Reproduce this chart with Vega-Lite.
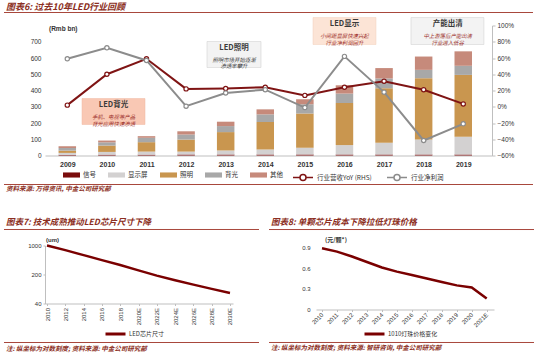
{
  "$schema": "https://vega.github.io/schema/vega-lite/v6.json",
  "bounds": "flush",
  "spacing": 90,
  "padding": {"left": 3, "top": 2.5, "right": 0, "bottom": 0},
  "autosize": {"type": "pad"},
  "background": "white",
  "resolve": {"scale": {"stroke": "independent", "fill": "independent"}, "legend": {"stroke": "independent", "fill": "independent"}},
  "config": {
    "view": {"stroke": null},
    "font": "Noto Sans CJK SC",
    "axis": {"labelFont": "Liberation Sans", "labelColor": "#333333", "domainColor": "#bfbfbf", "tickColor": "#bfbfbf", "grid": false, "labelOverlap": false, "labelFlush": false},
    "legend": {"labelFont": "Noto Sans CJK SC", "labelColor": "#333333", "labelFontSize": 6.5}
  },
  "datasets": {
    "bars": [
      {"year": 2009, "seg": "信号", "v": 4}, {"year": 2009, "seg": "显示屏", "v": 12}, {"year": 2009, "seg": "照明", "v": 14}, {"year": 2009, "seg": "背光", "v": 16}, {"year": 2009, "seg": "其他", "v": 11},
      {"year": 2010, "seg": "信号", "v": 5}, {"year": 2010, "seg": "显示屏", "v": 17}, {"year": 2010, "seg": "照明", "v": 39}, {"year": 2010, "seg": "背光", "v": 20}, {"year": 2010, "seg": "其他", "v": 11},
      {"year": 2011, "seg": "信号", "v": 5}, {"year": 2011, "seg": "显示屏", "v": 19}, {"year": 2011, "seg": "照明", "v": 58}, {"year": 2011, "seg": "背光", "v": 27}, {"year": 2011, "seg": "其他", "v": 10},
      {"year": 2012, "seg": "信号", "v": 6}, {"year": 2012, "seg": "显示屏", "v": 18}, {"year": 2012, "seg": "照明", "v": 74}, {"year": 2012, "seg": "背光", "v": 31}, {"year": 2012, "seg": "其他", "v": 20},
      {"year": 2013, "seg": "信号", "v": 6}, {"year": 2013, "seg": "显示屏", "v": 25}, {"year": 2013, "seg": "照明", "v": 113}, {"year": 2013, "seg": "背光", "v": 37}, {"year": 2013, "seg": "其他", "v": 27},
      {"year": 2014, "seg": "信号", "v": 6}, {"year": 2014, "seg": "显示屏", "v": 31}, {"year": 2014, "seg": "照明", "v": 169}, {"year": 2014, "seg": "背光", "v": 47}, {"year": 2014, "seg": "其他", "v": 31},
      {"year": 2015, "seg": "信号", "v": 6}, {"year": 2015, "seg": "显示屏", "v": 41}, {"year": 2015, "seg": "照明", "v": 212}, {"year": 2015, "seg": "背光", "v": 56}, {"year": 2015, "seg": "其他", "v": 31},
      {"year": 2016, "seg": "信号", "v": 6}, {"year": 2016, "seg": "显示屏", "v": 58}, {"year": 2016, "seg": "照明", "v": 259}, {"year": 2016, "seg": "背光", "v": 58}, {"year": 2016, "seg": "其他", "v": 51},
      {"year": 2017, "seg": "信号", "v": 6}, {"year": 2017, "seg": "显示屏", "v": 72}, {"year": 2017, "seg": "照明", "v": 336}, {"year": 2017, "seg": "背光", "v": 60}, {"year": 2017, "seg": "其他", "v": 64},
      {"year": 2018, "seg": "信号", "v": 6}, {"year": 2018, "seg": "显示屏", "v": 93}, {"year": 2018, "seg": "照明", "v": 377}, {"year": 2018, "seg": "背光", "v": 51}, {"year": 2018, "seg": "其他", "v": 82},
      {"year": 2019, "seg": "信号", "v": 6}, {"year": 2019, "seg": "显示屏", "v": 109}, {"year": 2019, "seg": "照明", "v": 381}, {"year": 2019, "seg": "背光", "v": 56}, {"year": 2019, "seg": "其他", "v": 89}
    ],
    "lines": [
      {"year": 2009, "s": "行业营收YoY (RHS)", "pct": 0.02}, {"year": 2010, "s": "行业营收YoY (RHS)", "pct": 0.40}, {"year": 2011, "s": "行业营收YoY (RHS)", "pct": 0.59}, {"year": 2012, "s": "行业营收YoY (RHS)", "pct": 0.22}, {"year": 2013, "s": "行业营收YoY (RHS)", "pct": 0.225}, {"year": 2014, "s": "行业营收YoY (RHS)", "pct": 0.24}, {"year": 2015, "s": "行业营收YoY (RHS)", "pct": 0.14}, {"year": 2016, "s": "行业营收YoY (RHS)", "pct": 0.24}, {"year": 2017, "s": "行业营收YoY (RHS)", "pct": 0.315}, {"year": 2018, "s": "行业营收YoY (RHS)", "pct": 0.21}, {"year": 2019, "s": "行业营收YoY (RHS)", "pct": 0.035},
      {"year": 2009, "s": "行业净利润", "pct": 0.59}, {"year": 2010, "s": "行业净利润", "pct": 0.725}, {"year": 2011, "s": "行业净利润", "pct": 0.57}, {"year": 2012, "s": "行业净利润", "pct": 0.007}, {"year": 2013, "s": "行业净利润", "pct": 0.17}, {"year": 2014, "s": "行业净利润", "pct": 0.21}, {"year": 2015, "s": "行业净利润", "pct": -0.01}, {"year": 2016, "s": "行业净利润", "pct": 0.62}, {"year": 2017, "s": "行业净利润", "pct": 0.18}, {"year": 2018, "s": "行业净利润", "pct": -0.415}, {"year": 2019, "s": "行业净利润", "pct": -0.21}
    ],
    "chip": [
      {"year": 2010, "s": "LED芯片尺寸", "um": 1000}, {"year": 2012, "s": "LED芯片尺寸", "um": 773}, {"year": 2014, "s": "LED芯片尺寸", "um": 586}, {"year": 2016, "s": "LED芯片尺寸", "um": 445}, {"year": 2018, "s": "LED芯片尺寸", "um": 338}, {"year": 2020, "s": "LED芯片尺寸", "um": 252}, {"year": 2022, "s": "LED芯片尺寸", "um": 188}, {"year": 2024, "s": "LED芯片尺寸", "um": 145}, {"year": 2026, "s": "LED芯片尺寸", "um": 114}, {"year": 2028, "s": "LED芯片尺寸", "um": 90}, {"year": 2030, "s": "LED芯片尺寸", "um": 72}
    ],
    "price": [
      {"year": 2010, "s": "1010灯珠价格变化", "p": 0.89}, {"year": 2011, "s": "1010灯珠价格变化", "p": 0.84}, {"year": 2012, "s": "1010灯珠价格变化", "p": 0.77}, {"year": 2013, "s": "1010灯珠价格变化", "p": 0.69}, {"year": 2014, "s": "1010灯珠价格变化", "p": 0.61}, {"year": 2015, "s": "1010灯珠价格变化", "p": 0.55}, {"year": 2016, "s": "1010灯珠价格变化", "p": 0.50}, {"year": 2017, "s": "1010灯珠价格变化", "p": 0.45}, {"year": 2018, "s": "1010灯珠价格变化", "p": 0.40}, {"year": 2019, "s": "1010灯珠价格变化", "p": 0.35}, {"year": 2020, "s": "1010灯珠价格变化", "p": 0.32}, {"year": 2021, "s": "1010灯珠价格变化", "p": 0.16}
    ],
    "one": [{}]
  },
  "vconcat": [
    {
      "width": 447,
      "height": 130,
      "resolve": {"scale": {"x": "independent", "y": "independent"}},
      "layer": [
        {
          "resolve": {"scale": {"y": "independent"}},
          "layer": [
            {
              "data": {"name": "bars"},
              "transform": [{"window": [{"op": "row_number", "as": "rn"}], "groupby": ["year"]}],
              "mark": {"type": "bar", "size": 17.5},
              "encoding": {
                "x": {"field": "year", "type": "quantitative", "scale": {"domain": [2008.563, 2019.6], "nice": false, "zero": false},
                  "axis": {"values": [2009, 2010, 2011, 2012, 2013, 2014, 2015, 2016, 2017, 2018, 2019], "format": "d", "title": null, "ticks": false, "labelFontSize": 7, "labelFontWeight": "bold", "labelPadding": 5}},
                "y": {"field": "v", "type": "quantitative", "stack": "zero", "scale": {"domain": [0, 800], "nice": false, "zero": false},
                  "axis": {"values": [0, 100, 200, 300, 400, 500, 600, 700], "title": null, "domain": false, "ticks": false, "tickSize": 0, "labelFontSize": 6.5, "labelPadding": 4}},
                "order": {"field": "rn", "type": "quantitative", "sort": "ascending"},
                "fill": {"field": "seg", "type": "nominal", "sort": ["信号", "显示屏", "照明", "背光", "其他"],
                  "scale": {"domain": ["信号", "显示屏", "照明", "背光", "其他"], "range": ["#7a0c0c", "#d3d1d1", "#c9964f", "#a8a8a8", "#c68a7b"]},
                  "legend": {"title": null, "orient": "none", "legendX": 18, "legendY": 141, "direction": "horizontal", "symbolType": "M-1,-0.3H1V0.3H-1Z", "symbolSize": 289, "symbolStrokeWidth": 0, "labelOffset": 3, "columnPadding": 12}}
              }
            },
            {
              "data": {"name": "lines"},
              "mark": {"type": "line", "strokeWidth": 2, "point": {"filled": false, "fill": "white", "size": 18, "strokeWidth": 1.2}},
              "encoding": {
                "x": {"field": "year", "type": "quantitative"},
                "y": {"field": "pct", "type": "quantitative", "scale": {"domain": [-0.6, 1.0], "nice": false, "zero": false},
                  "axis": {"orient": "right", "values": [-0.6, -0.4, -0.2, 0, 0.2, 0.4, 0.6, 0.8, 1.0], "format": ".0%", "title": null, "tickSize": 3, "labelPadding": 2, "labelFontSize": 6.5}},
                "stroke": {"field": "s", "type": "nominal", "sort": ["行业营收YoY (RHS)", "行业净利润"],
                  "scale": {"domain": ["行业营收YoY (RHS)", "行业净利润"], "range": ["#7f1414", "#8c8c8c"]},
                  "legend": {"title": null, "orient": "none", "legendX": 247, "legendY": 141, "direction": "horizontal", "symbolType": "M-1,0H-0.3M0.3,0H1M-0.3,0A0.3,0.3,0,1,1,0.3,0A0.3,0.3,0,1,1,-0.3,0", "symbolSize": 400, "symbolStrokeWidth": 1.5, "symbolFillColor": "white", "labelOffset": 3, "columnPadding": 12}}
              }
            }
          ]
        },
        {
          "data": {"name": "one"},
          "layer": [
            {"mark": {"type": "rect", "fill": "#f9c8b4", "stroke": "#f0b8a0", "strokeWidth": 0.5},
              "encoding": {"x": {"datum": 2009.477, "axis": null, "scale": {"domain": [2008.563, 2019.6], "nice": false, "zero": false}}, "x2": {"datum": 2011.032}, "y": {"datum": 350.8, "axis": null, "scale": {"domain": [0, 800], "nice": false, "zero": false}}, "y2": {"datum": 190.8}}},
            {"mark": {"type": "text", "text": "LED背光", "fontSize": 7.5, "fontWeight": "bold", "fill": "#3a3a3a", "align": "center", "baseline": "middle"},
              "encoding": {"x": {"datum": 2010.254, "axis": null}, "y": {"datum": 309, "axis": null}}},
            {"mark": {"type": "text", "text": ["手机、电视等产品", "背光应用快速渗透"], "lineHeight": 6.6, "fontSize": 5.4, "fontStyle": "italic", "fill": "#9c2f2a", "align": "center", "baseline": "middle"},
              "encoding": {"x": {"datum": 2010.254, "axis": null}, "y": {"datum": 236, "axis": null}}},
            {"mark": {"type": "rect", "fill": "#f3f3f3", "stroke": "#d4d4d4", "strokeWidth": 0.6},
              "encoding": {"x": {"datum": 2012.563, "axis": null}, "x2": {"datum": 2013.896}, "y": {"datum": 701.5, "axis": null}, "y2": {"datum": 541.5}}},
            {"mark": {"type": "text", "text": "LED照明", "fontSize": 7.5, "fontWeight": "bold", "fill": "#3a3a3a", "align": "center", "baseline": "middle"},
              "encoding": {"x": {"datum": 2013.23, "axis": null}, "y": {"datum": 664, "axis": null}}},
            {"mark": {"type": "text", "text": ["照明市场开始逐渐", "渗透率攀升"], "lineHeight": 6.6, "fontSize": 5.4, "fontStyle": "italic", "fill": "#3a3a3a", "align": "center", "baseline": "middle"},
              "encoding": {"x": {"datum": 2013.23, "axis": null}, "y": {"datum": 590, "axis": null}}},
            {"mark": {"type": "rect", "fill": "#fce4d6", "stroke": "#f2d0bd", "strokeWidth": 0.5},
              "encoding": {"x": {"datum": 2015.18, "axis": null}, "x2": {"datum": 2016.736}, "y": {"datum": 849, "axis": null}, "y2": {"datum": 683}}},
            {"mark": {"type": "text", "text": "LED显示", "fontSize": 7.5, "fontWeight": "bold", "fill": "#3a3a3a", "align": "center", "baseline": "middle"},
              "encoding": {"x": {"datum": 2015.958, "axis": null}, "y": {"datum": 808, "axis": null}}},
            {"mark": {"type": "text", "text": ["小间距显屏快速兴起", "行业净利润回升"], "lineHeight": 6.6, "fontSize": 5.4, "fontStyle": "italic", "fill": "#9c2f2a", "align": "center", "baseline": "middle"},
              "encoding": {"x": {"datum": 2015.958, "axis": null}, "y": {"datum": 733, "axis": null}}},
            {"mark": {"type": "rect", "fill": "#f3f3f3", "stroke": "#d4d4d4", "strokeWidth": 0.6},
              "encoding": {"x": {"datum": 2017.6, "axis": null}, "x2": {"datum": 2019.4}, "y": {"datum": 849, "axis": null}, "y2": {"datum": 683}}},
            {"mark": {"type": "text", "text": "产能出清", "fontSize": 7.5, "fontWeight": "bold", "fill": "#3a3a3a", "align": "center", "baseline": "middle"},
              "encoding": {"x": {"datum": 2018.506, "axis": null}, "y": {"datum": 808, "axis": null}}},
            {"mark": {"type": "text", "text": ["中上游落后产能出清", "行业进入低谷"], "lineHeight": 6.6, "fontSize": 5.4, "fontStyle": "italic", "fill": "#9c2f2a", "align": "center", "baseline": "middle"},
              "encoding": {"x": {"datum": 2018.506, "axis": null}, "y": {"datum": 733, "axis": null}}},
            {"mark": {"type": "text", "text": "(Rmb bn)", "font": "Liberation Sans", "fontSize": 6.5, "fontWeight": "bold", "fill": "#333333", "align": "left", "baseline": "middle"},
              "encoding": {"x": {"datum": 2008.662, "axis": null}, "y": {"datum": 781.5, "axis": null}}},
            {"mark": {"type": "text", "text": "图表6: 过去10年LED行业回顾", "fontSize": 9, "fontWeight": "bold", "fontStyle": "italic", "fill": "#8b2e22", "align": "left", "baseline": "middle"},
              "encoding": {"x": {"datum": 2007.60, "axis": null}, "y": {"datum": 916.9, "axis": null}}},
            {"mark": {"type": "rule", "stroke": "#a8473c", "strokeWidth": 1},
              "encoding": {"x": {"datum": 2007.551, "axis": null}, "x2": {"datum": 2020.612}, "y": {"datum": 880, "axis": null}}},
            {"mark": {"type": "rule", "stroke": "#a8473c", "strokeWidth": 1},
              "encoding": {"x": {"datum": 2007.551, "axis": null}, "x2": {"datum": 2020.612}, "y": {"datum": -178.5, "axis": null}}},
            {"mark": {"type": "text", "text": "资料来源: 万得资讯, 中金公司研究部", "fontSize": 6.5, "fontWeight": "bold", "fontStyle": "italic", "fill": "#8b2e22", "align": "left", "baseline": "middle"},
              "encoding": {"x": {"datum": 2007.60, "axis": null}, "y": {"datum": -209.2, "axis": null}}}
          ]
        }
      ]
    },
    {
      "hconcat": [
        {
          "width": 188,
          "height": 58,
          "resolve": {"scale": {"x": "independent", "y": "independent"}},
          "layer": [
            {
              "data": {"name": "chip"},
              "mark": {"type": "line", "strokeWidth": 2.5},
              "encoding": {
                "x": {"field": "year", "type": "quantitative", "scale": {"domain": [2009.781, 2030.328], "nice": false, "zero": false},
                  "axis": {"values": [2010, 2012, 2014, 2016, 2018, 2020, 2022, 2024, 2026, 2028, 2030], "labelExpr": "datum.value >= 2020 ? datum.value + 'E' : datum.value + ''", "labelAngle": 270, "labelAlign": "right", "labelBaseline": "middle", "title": null, "tickSize": 2, "labelFontSize": 6, "labelPadding": 2}},
                "y": {"field": "um", "type": "quantitative", "scale": {"type": "log", "domain": [40, 1000], "nice": false},
                  "axis": {"values": [40, 200, 1000], "format": "d", "title": null, "tickSize": 2, "labelFontSize": 6, "labelPadding": 2}},
                "stroke": {"field": "s", "type": "nominal", "scale": {"domain": ["LED芯片尺寸"], "range": ["#7a0000"]},
                  "legend": {"title": null, "orient": "none", "legendX": 59, "legendY": 77, "symbolType": "stroke", "symbolSize": 400, "symbolStrokeWidth": 3, "labelFontSize": 6, "labelOffset": 2}}
              }
            },
            {
              "data": {"name": "one"},
              "layer": [
                {"mark": {"type": "text", "text": "(um)", "font": "Liberation Sans", "fontSize": 6, "fontWeight": "bold", "fill": "#333333", "align": "left", "baseline": "middle"},
                  "encoding": {"x": {"datum": 2009.89, "axis": null, "scale": {"domain": [2009.781, 2030.328], "nice": false, "zero": false}}, "y": {"datum": 1350, "axis": null, "scale": {"type": "log", "domain": [40, 1000], "nice": false}}}},
                {"mark": {"type": "text", "text": "图表7: 技术成熟推动LED芯片尺寸下降", "fontSize": 8.5, "fontWeight": "bold", "fontStyle": "italic", "fill": "#8b2e22", "align": "left", "baseline": "middle"},
                  "encoding": {"x": {"datum": 2005.519, "axis": null}, "y": {"datum": 3584, "axis": null}}},
                {"mark": {"type": "rule", "stroke": "#a8473c", "strokeWidth": 1},
                  "encoding": {"x": {"datum": 2005.30, "axis": null}, "x2": {"datum": 2033.17}, "y": {"datum": 2431, "axis": null}}},
                {"mark": {"type": "rule", "stroke": "#a8473c", "strokeWidth": 1},
                  "encoding": {"x": {"datum": 2005.30, "axis": null}, "x2": {"datum": 2033.17}, "y": {"datum": 4.59, "axis": null}}},
                {"mark": {"type": "text", "text": "注: 纵坐标为对数刻度; 资料来源: 中金公司研究部", "fontSize": 6.5, "fontWeight": "bold", "fontStyle": "italic", "fill": "#8b2e22", "align": "left", "baseline": "middle"},
                  "encoding": {"x": {"datum": 2005.519, "axis": null}, "y": {"datum": 3.29, "axis": null}}}
              ]
            }
          ]
        },
        {
          "width": 178,
          "height": 64,
          "resolve": {"scale": {"x": "independent", "y": "independent"}},
          "layer": [
            {
              "data": {"name": "price"},
              "mark": {"type": "line", "strokeWidth": 2.5},
              "encoding": {
                "x": {"field": "year", "type": "quantitative", "scale": {"domain": [2009.599, 2021.488], "nice": false, "zero": false},
                  "axis": {"values": [2010, 2011, 2012, 2013, 2014, 2015, 2016, 2017, 2018, 2019, 2020, 2021], "labelExpr": "datum.value >= 2021 ? datum.value + 'E' : datum.value + ''", "labelAngle": -45, "labelAlign": "right", "labelBaseline": "middle", "title": null, "tickSize": 2, "labelFontSize": 6, "labelPadding": 2}},
                "y": {"field": "p", "type": "quantitative", "scale": {"domain": [0, 0.929], "nice": false},
                  "axis": {"values": [0, 0.3, 0.6, 0.9], "format": ".1~f", "title": null, "domain": false, "ticks": false, "tickSize": 0, "labelFontSize": 6, "labelPadding": 6}},
                "stroke": {"field": "s", "type": "nominal", "scale": {"domain": ["1010灯珠价格变化"], "range": ["#7a0000"]},
                  "legend": {"title": null, "orient": "none", "legendX": 47, "legendY": 77, "symbolType": "stroke", "symbolSize": 400, "symbolStrokeWidth": 3, "labelFontSize": 6, "labelOffset": 2}}
              }
            },
            {
              "data": {"name": "one"},
              "layer": [
                {"mark": {"type": "text", "text": "(元/颗*)", "fontSize": 6, "fontWeight": "bold", "fill": "#333333", "align": "left", "baseline": "middle"},
                  "encoding": {"x": {"datum": 2010.2, "axis": null, "scale": {"domain": [2009.599, 2021.488], "nice": false, "zero": false}}, "y": {"datum": 1.006, "axis": null, "scale": {"domain": [0, 0.929], "nice": false, "zero": false}}}},
                {"mark": {"type": "text", "text": "图表8: 单颗芯片成本下降拉低灯珠价格", "fontSize": 8.5, "fontWeight": "bold", "fontStyle": "italic", "fill": "#8b2e22", "align": "left", "baseline": "middle"},
                  "encoding": {"x": {"datum": 2006.593, "axis": null}, "y": {"datum": 1.263, "axis": null}}},
                {"mark": {"type": "rule", "stroke": "#a8473c", "strokeWidth": 1},
                  "encoding": {"x": {"datum": 2006.46, "axis": null}, "x2": {"datum": 2024.16}, "y": {"datum": 1.161, "axis": null}}},
                {"mark": {"type": "rule", "stroke": "#a8473c", "strokeWidth": 1},
                  "encoding": {"x": {"datum": 2006.46, "axis": null}, "x2": {"datum": 2024.16}, "y": {"datum": -0.479, "axis": null}}},
                {"mark": {"type": "text", "text": "注: 纵坐标为对数刻度; 资料来源: 智研咨询, 中金公司研究部", "fontSize": 6.5, "fontWeight": "bold", "fontStyle": "italic", "fill": "#8b2e22", "align": "left", "baseline": "middle"},
                  "encoding": {"x": {"datum": 2006.593, "axis": null}, "y": {"datum": -0.566, "axis": null}}}
              ]
            }
          ]
        }
      ],
      "spacing": 83,
      "bounds": "flush",
      "resolve": {"scale": {"stroke": "independent"}, "legend": {"stroke": "independent"}}
    }
  ]
}
